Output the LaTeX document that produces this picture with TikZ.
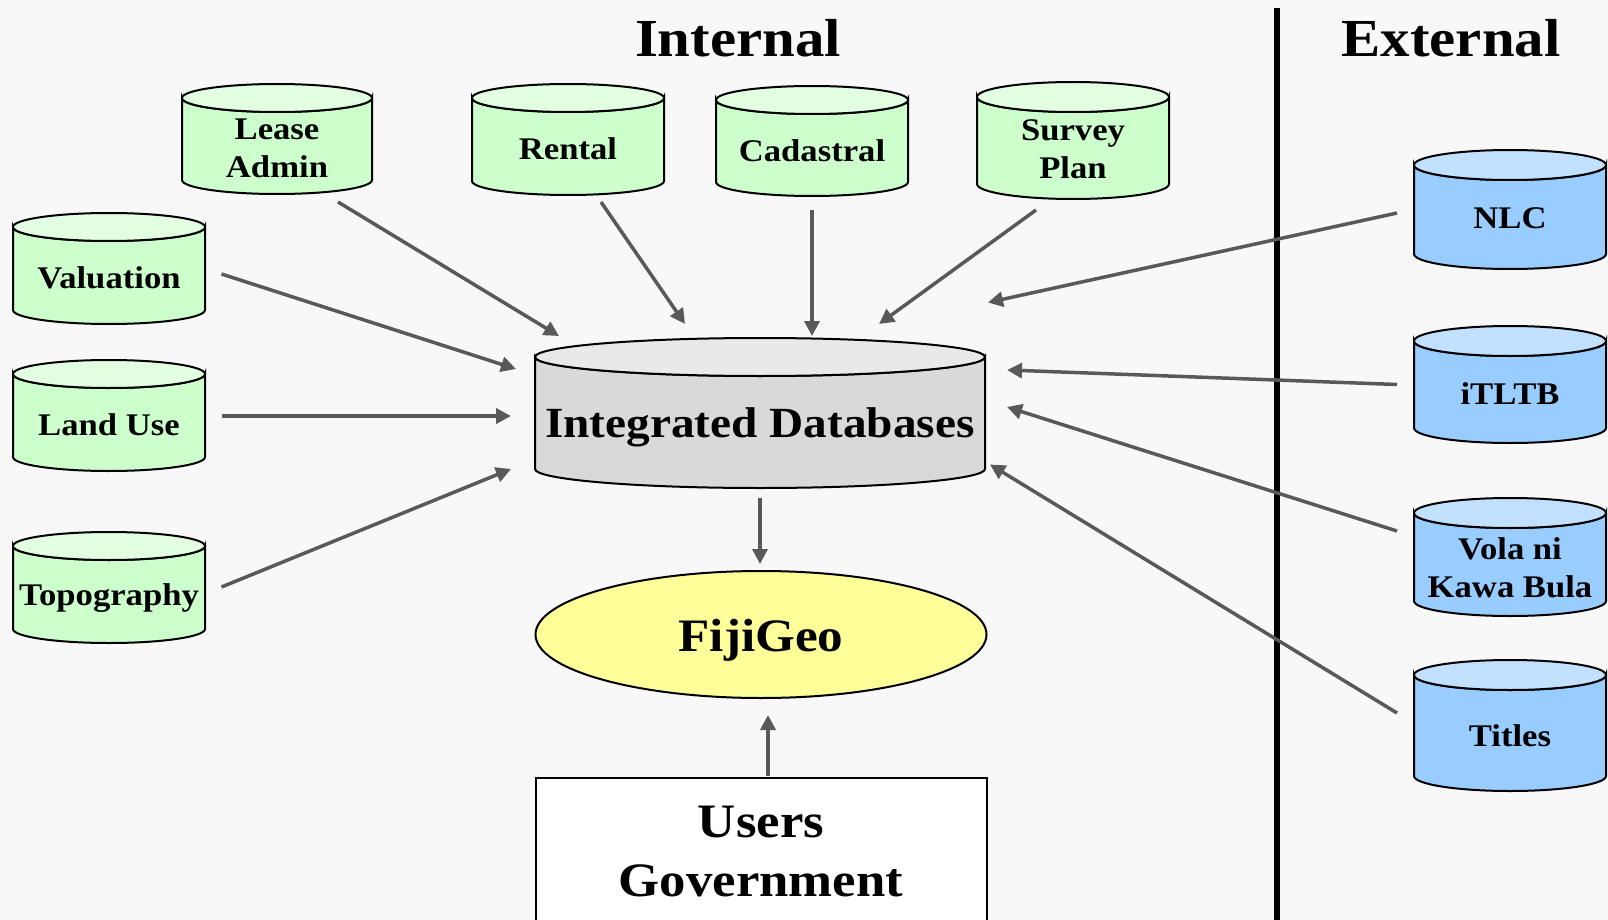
\documentclass[tikz,border=0pt]{standalone}
\usepackage{fontspec}
\setmainfont[FakeStretch=1.1]{Liberation Serif}
\usetikzlibrary{arrows.meta,shapes.geometric}
\definecolor{bgc}{HTML}{F8F8F8}
\definecolor{grnbody}{HTML}{CCFFCC}
\definecolor{grntop}{HTML}{E2FFE2}
\definecolor{blubody}{HTML}{99CCFF}
\definecolor{blutop}{HTML}{C2E0FF}
\definecolor{graybody}{HTML}{D9D9D9}
\definecolor{graytop}{HTML}{E9E9E9}
\definecolor{fijiyel}{HTML}{FFFF99}
\definecolor{arrgray}{HTML}{595959}
\newcommand{\dbdraw}[7]{%
  \path[cylline,fill=#6] ({#1-#4},{#2+#5}) -- ({#1-#4},{#3-#5})
    arc[start angle=180,end angle=0,x radius=#4,y radius=#5]
    -- ({#1+#4},{#2+#5})
    arc[start angle=0,end angle=180,x radius=#4,y radius=#5] -- cycle;
  \path[cylline,fill=#7] (#1,{#2+#5}) ellipse[x radius=#4,y radius=#5];
}
\tikzset{
  cylline/.style={draw=black,line width=2pt},
  smalltxt/.style={font=\fontsize{31.5}{38}\selectfont\bfseries,align=center,inner sep=0pt},
  titletxt/.style={font=\fontsize{53.5}{60}\selectfont\bfseries,inner sep=0pt},
  conn/.style={draw=arrgray,line width=3.5pt,-{Triangle[length=15pt,width=15pt]}}
}
\begin{document}
\begin{tikzpicture}[x=1pt,y=-1pt]
\useasboundingbox (0,0) rectangle (1608,920);
\clip (0,0) rectangle (1608,920);
\fill[bgc] (0,0) rectangle (1608,920);

% titles and divider
\node[titletxt] (internal) at (738,38) {Internal};
\node[titletxt] (external) at (1451,38) {External};
\coordinate (divtop) at (1277,8);
\coordinate (divbot) at (1277,925);
\draw[line width=6pt,black] (divtop) -- (divbot);

% cylinders
\dbdraw{277}{84}{194}{95}{14}{grnbody}{grntop}
\dbdraw{568}{84}{195}{96}{14}{grnbody}{grntop}
\dbdraw{812}{86}{196}{96}{14}{grnbody}{grntop}
\dbdraw{1073}{82}{199}{96}{15}{grnbody}{grntop}
\dbdraw{109}{213}{324}{96}{14}{grnbody}{grntop}
\dbdraw{109}{360}{471}{96}{14}{grnbody}{grntop}
\dbdraw{109}{532}{643}{96}{14}{grnbody}{grntop}
\dbdraw{1510}{150}{269}{96}{15}{blubody}{blutop}
\dbdraw{1510}{326}{443}{96}{15}{blubody}{blutop}
\dbdraw{1510}{498}{616}{96}{15}{blubody}{blutop}
\dbdraw{1510}{660}{791}{96}{15}{blubody}{blutop}
\dbdraw{760}{338}{488}{225}{19}{graybody}{graytop}

\node[smalltxt] (lease) at (277,148) {Lease\\Admin};
\node[smalltxt] (rental) at (568,148.5) {Rental};
\node[smalltxt] (cad) at (812,150.5) {Cadastral};
\node[smalltxt] (survey) at (1073,149.5) {Survey\\Plan};
\node[smalltxt] (val) at (109,277.5) {Valuation};
\node[smalltxt] (land) at (109,424.5) {Land Use};
\node[smalltxt] (topo) at (109,598.5) {Topography};
\node[smalltxt] (nlc) at (1510,218.5) {NLC};
\node[smalltxt] (itltb) at (1510,394) {iTLTB};
\node[smalltxt] (vola) at (1510,567.5) {Vola ni\\Kawa Bula};
\node[smalltxt] (titles) at (1510,736) {Titles};
\node[font=\fontsize{43}{48}\selectfont\bfseries,inner sep=0pt] (idb) at (760,427) {Integrated Databases};

% FijiGeo and Users
\node[ellipse,draw=black,line width=2pt,fill=fijiyel,minimum width=451pt,minimum height=127pt,inner sep=0pt] (fiji) at (761,634.5) {};
\node[font=\fontsize{46.5}{52}\selectfont\bfseries,inner sep=0pt] (fijitxt) at (761,640) {FijiGeo};
\node[rectangle,draw=black,line width=2pt,fill=white,minimum width=451pt,minimum height=148pt,
      align=center,font=\fontsize{48}{59}\selectfont\bfseries] (users) at (761,852) {Users\\Government};

% connector endpoints
\coordinate (leaseS) at (338,202);   \coordinate (leaseE) at (559,336);
\coordinate (rentalS) at (601,202);  \coordinate (rentalE) at (685,324);
\coordinate (cadS) at (812,210);     \coordinate (cadE) at (812,336);
\coordinate (surveyS) at (1036,210); \coordinate (surveyE) at (879,324);
\coordinate (valS) at (221.5,274);   \coordinate (valE) at (516,369);
\coordinate (landS) at (221.5,416);  \coordinate (landE) at (511,416);
\coordinate (topoS) at (221.5,587);  \coordinate (topoE) at (511,469);
\coordinate (nlcS) at (1397,213);    \coordinate (nlcE) at (988,302.5);
\coordinate (itltbS) at (1397,384.5);\coordinate (itltbE) at (1007,370);
\coordinate (volaS) at (1397,531);   \coordinate (volaE) at (1007,407);
\coordinate (titlesS) at (1397,713); \coordinate (titlesE) at (990,464.5);
\coordinate (idbS) at (760,498);     \coordinate (idbE) at (760,564);
\coordinate (usersS) at (768,776);   \coordinate (usersE) at (768,715);

\foreach \n in {lease,rental,cad,survey,val,land,topo,nlc,itltb,vola,titles,idb,users}
  \draw[conn] (\n S) -- (\n E);
\end{tikzpicture}
\end{document}
